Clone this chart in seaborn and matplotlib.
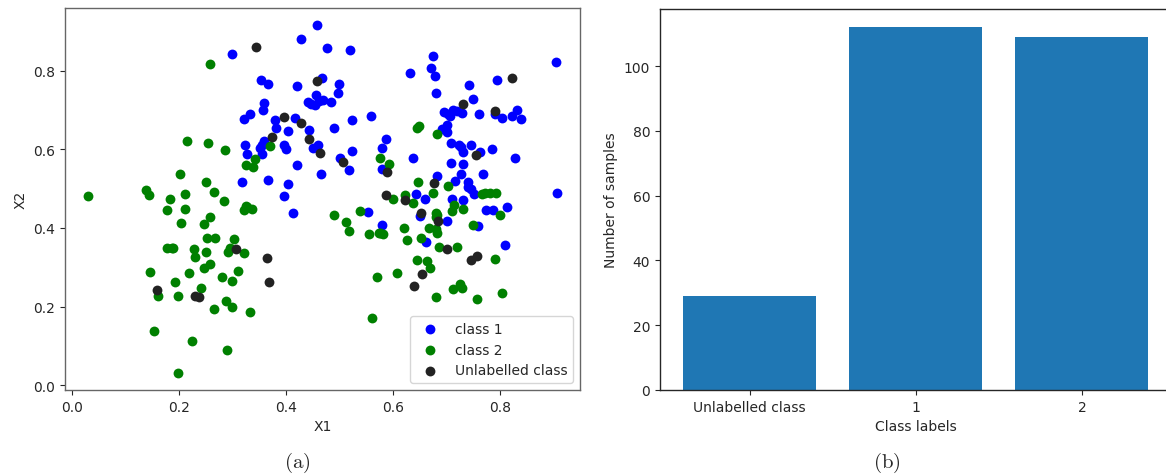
import numpy as np
import pandas as pd
import matplotlib
matplotlib.use("Agg")
import matplotlib.pyplot as plt
import seaborn as sns

# class 1 (blue) points
c1_x = [0.300, 0.353, 0.367, 0.421, 0.428, 0.459, 0.457, 0.441, 0.454, 0.469,
        0.485, 0.359, 0.357, 0.334, 0.321, 0.379, 0.382, 0.417, 0.404, 0.444,
        0.359, 0.324, 0.352, 0.356, 0.327, 0.396, 0.401, 0.451, 0.460, 0.421,
        0.466, 0.318, 0.366, 0.404, 0.396, 0.413, 0.477, 0.520, 0.675, 0.672,
        0.679, 0.633, 0.905, 0.468, 0.500, 0.498, 0.794, 0.743, 0.680, 0.750,
        0.560, 0.523, 0.696, 0.712, 0.707, 0.729, 0.761, 0.791, 0.804, 0.822,
        0.833, 0.840, 0.491, 0.691, 0.701, 0.702, 0.523, 0.501, 0.518, 0.709,
        0.724, 0.746, 0.731, 0.762, 0.786, 0.828, 0.638, 0.587, 0.580, 0.709,
        0.732, 0.728, 0.769, 0.682, 0.716, 0.741, 0.579, 0.643, 0.660, 0.746,
        0.752, 0.710, 0.731, 0.774, 0.787, 0.814, 0.906, 0.554, 0.651, 0.701,
        0.580, 0.759, 0.662, 0.810, 0.448, 0.462, 0.703, 0.720, 0.727, 0.356,
        0.740, 0.698]
c1_y = [0.843, 0.775, 0.767, 0.760, 0.880, 0.915, 0.737, 0.720, 0.712, 0.725,
        0.720, 0.717, 0.699, 0.689, 0.676, 0.675, 0.653, 0.679, 0.646, 0.649,
        0.621, 0.612, 0.602, 0.588, 0.589, 0.610, 0.600, 0.602, 0.611, 0.561,
        0.537, 0.517, 0.522, 0.511, 0.480, 0.438, 0.857, 0.852, 0.837, 0.806,
        0.786, 0.793, 0.822, 0.780, 0.767, 0.742, 0.777, 0.763, 0.744, 0.727,
        0.685, 0.674, 0.695, 0.701, 0.685, 0.692, 0.689, 0.689, 0.680, 0.685,
        0.700, 0.676, 0.653, 0.651, 0.661, 0.644, 0.596, 0.577, 0.547, 0.615,
        0.611, 0.610, 0.594, 0.592, 0.600, 0.577, 0.577, 0.626, 0.602, 0.565,
        0.562, 0.537, 0.537, 0.532, 0.519, 0.516, 0.550, 0.485, 0.473, 0.499,
        0.485, 0.473, 0.471, 0.446, 0.446, 0.453, 0.489, 0.440, 0.431, 0.418,
        0.408, 0.404, 0.365, 0.357, 0.716, 0.722, 0.690, 0.697, 0.605, 0.610,
        0.505, 0.652]

# class 2 (green) points
c2_x = [0.259, 0.215, 0.255, 0.287, 0.371, 0.342, 0.325, 0.339, 0.203, 0.251,
        0.265, 0.139, 0.145, 0.212, 0.031, 0.183, 0.285, 0.178, 0.212, 0.325,
        0.322, 0.336, 0.259, 0.205, 0.247, 0.252, 0.267, 0.303, 0.178, 0.188,
        0.228, 0.230, 0.250, 0.292, 0.295, 0.321, 0.259, 0.248, 0.310, 0.146,
        0.220, 0.280, 0.300, 0.193, 0.242, 0.161, 0.198, 0.288, 0.299, 0.265,
        0.333, 0.153, 0.224, 0.291, 0.198, 0.646, 0.649, 0.682, 0.576, 0.593,
        0.647, 0.675, 0.703, 0.766, 0.781, 0.792, 0.600, 0.623, 0.637, 0.715,
        0.731, 0.710, 0.680, 0.680, 0.490, 0.539, 0.513, 0.519, 0.801, 0.749,
        0.668, 0.680, 0.682, 0.621, 0.555, 0.574, 0.582, 0.626, 0.653, 0.687,
        0.720, 0.646, 0.664, 0.669, 0.791, 0.570, 0.608, 0.713, 0.726, 0.729,
        0.680, 0.758, 0.804, 0.561, 0.327, 0.682, 0.190, 0.576, 0.772]
c2_y = [0.816, 0.622, 0.615, 0.598, 0.608, 0.575, 0.561, 0.556, 0.538, 0.517,
        0.491, 0.496, 0.484, 0.487, 0.480, 0.474, 0.468, 0.445, 0.448, 0.456,
        0.445, 0.448, 0.429, 0.412, 0.409, 0.375, 0.374, 0.371, 0.348, 0.348,
        0.346, 0.326, 0.340, 0.340, 0.349, 0.335, 0.308, 0.299, 0.291, 0.287,
        0.285, 0.274, 0.265, 0.263, 0.246, 0.228, 0.228, 0.213, 0.198, 0.193,
        0.187, 0.138, 0.112, 0.089, 0.032, 0.655, 0.659, 0.638, 0.579, 0.563,
        0.517, 0.490, 0.506, 0.486, 0.490, 0.489, 0.473, 0.483, 0.463, 0.459,
        0.448, 0.442, 0.438, 0.429, 0.433, 0.442, 0.415, 0.393, 0.434, 0.407,
        0.400, 0.397, 0.387, 0.400, 0.385, 0.386, 0.385, 0.368, 0.375, 0.352,
        0.351, 0.319, 0.315, 0.297, 0.321, 0.274, 0.286, 0.245, 0.257, 0.247,
        0.225, 0.220, 0.234, 0.172, 0.452, 0.434, 0.348, 0.386, 0.488]

# unlabelled points
un_x = [0.344, 0.458, 0.396, 0.429, 0.375, 0.443, 0.464, 0.823, 0.732, 0.791,
        0.507, 0.755, 0.589, 0.677, 0.587, 0.623, 0.652, 0.684, 0.702, 0.746,
        0.757, 0.654, 0.640, 0.307, 0.364, 0.368, 0.160, 0.230, 0.237]
un_y = [0.860, 0.774, 0.683, 0.668, 0.631, 0.626, 0.590, 0.780, 0.714, 0.698,
        0.567, 0.586, 0.543, 0.514, 0.484, 0.471, 0.437, 0.417, 0.346, 0.318,
        0.329, 0.282, 0.252, 0.346, 0.323, 0.263, 0.242, 0.228, 0.225]

bar_labels = ["Unlabelled class", "1", "2"]
bar_counts = [29, 112, 109]

sns.set_theme(style="ticks")
plt.rcParams["font.family"] = ["DejaVu Sans"]
plt.rcParams["mathtext.fontset"] = "cm"
plt.rcParams["font.size"] = 10
plt.rcParams["axes.labelsize"] = 10
plt.rcParams["xtick.labelsize"] = 10
plt.rcParams["ytick.labelsize"] = 10
plt.rcParams["legend.fontsize"] = 10
plt.rcParams["xtick.major.size"] = 3.5
plt.rcParams["ytick.major.size"] = 3.5
plt.rcParams["xtick.major.width"] = 0.8
plt.rcParams["ytick.major.width"] = 0.8
plt.rcParams["axes.linewidth"] = 1.0

fig = plt.figure(figsize=(11.66, 4.77), dpi=100)
ax1 = fig.add_axes([0.0557, 0.1803, 0.4417, 0.8008])
ax2 = fig.add_axes([0.566, 0.1803, 0.4388, 0.7987])

# (a) scatter
sns.scatterplot(x=c1_x, y=c1_y, color="blue", s=50, linewidth=0, label="class 1", ax=ax1)
sns.scatterplot(x=c2_x, y=c2_y, color="green", s=50, linewidth=0, label="class 2", ax=ax1)
sns.scatterplot(x=un_x, y=un_y, color="#222222", s=50, linewidth=0, label="Unlabelled class", ax=ax1)
ax1.set_xlabel("X1")
ax1.set_ylabel("X2")
ax1.legend(loc="lower right")
for sp in ax1.spines.values():
    sp.set_color("0.4")

# (b) bars - figure is cropped on the right, so no right spine
sns.barplot(x=bar_labels, y=bar_counts, color="#1f77b4", saturation=1, width=0.8,
            linewidth=0, ax=ax2)
ax2.set_xlim(-0.54, 2.54)
ax2.set_ylim(0, 117.6)
ax2.set_xlabel("Class labels")
ax2.set_ylabel("Number of samples")
ax2.spines["right"].set_visible(False)

fig.text(0.255, 0.029, r"$\mathrm{(a)}$", fontsize=15, ha="center", va="center")
fig.text(0.761, 0.029, r"$\mathrm{(b)}$", fontsize=15, ha="center", va="center")

fig.savefig("out.png", dpi=100)
